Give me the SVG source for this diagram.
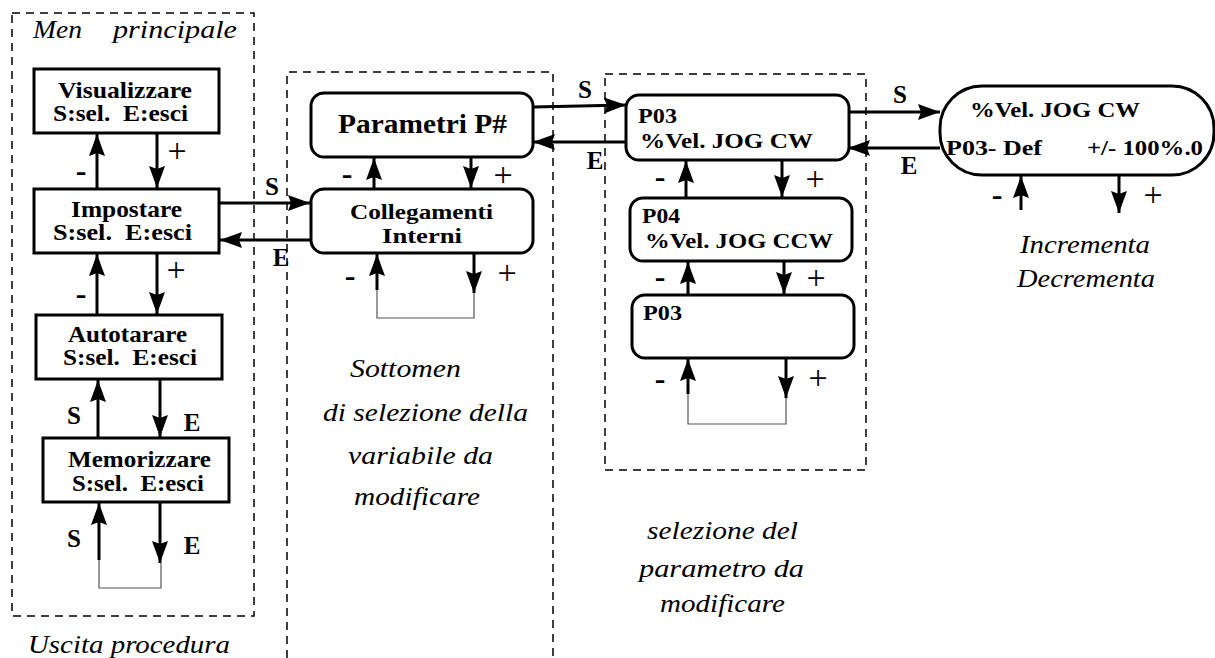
<svg xmlns="http://www.w3.org/2000/svg" width="1215" height="658" viewBox="0 0 1215 658">
<defs>
<marker id="ah" markerUnits="userSpaceOnUse" markerWidth="24" markerHeight="18" refX="22" refY="8" orient="auto">
<path d="M0,0 L22,8 L0,16 L3,8 z" fill="#000"/>
</marker>
<style>
.box{fill:#fff;stroke:#000;stroke-width:3}
.dash{fill:none;stroke:#000;stroke-width:1.5;stroke-dasharray:8 6}
.conn{fill:none;stroke:#000;stroke-width:3;marker-end:url(#ah)}
.loop{fill:none;stroke:#555;stroke-width:1.2}
.t{font-family:"Liberation Serif","Times New Roman",serif;font-weight:bold;font-size:23px;white-space:pre}
.big{font-size:28px}
.sm{font-size:22px}
.xs{font-size:20px}
.note{font-family:"Liberation Serif","Times New Roman",serif;font-style:italic;font-size:26px}
.lbl{font-family:"Liberation Serif","Times New Roman",serif;font-weight:bold;font-size:25px;text-anchor:middle}
.pl{font-family:"Liberation Serif","Times New Roman",serif;font-size:34px;text-anchor:middle}
.mn{font-family:"Liberation Serif","Times New Roman",serif;font-weight:bold;font-size:32px;text-anchor:middle}
</style>
</defs>
<rect width="1215" height="658" fill="#fff"/>

<g id="frames">
<rect class="dash" x="12" y="13" width="242" height="603"/>
<path class="dash" d="M287,658 V72 H553 V658"/>
<rect class="dash" x="605" y="74" width="261" height="396"/>
</g>

<g id="notes">
<text class="note" y="38"><tspan x="33" textLength="49" lengthAdjust="spacingAndGlyphs">Men</tspan><tspan x="113" textLength="124" lengthAdjust="spacingAndGlyphs">principale</tspan></text>
<text class="note" x="28" y="653" textLength="202" lengthAdjust="spacingAndGlyphs">Uscita procedura</text>
<text class="note" x="350" y="377" textLength="111" lengthAdjust="spacingAndGlyphs">Sottomen</text>
<text class="note" x="323" y="421" textLength="205" lengthAdjust="spacingAndGlyphs">di selezione della</text>
<text class="note" x="348" y="464" textLength="145" lengthAdjust="spacingAndGlyphs">variabile da</text>
<text class="note" x="354" y="505" textLength="126" lengthAdjust="spacingAndGlyphs">modificare</text>
<text class="note" x="647" y="539" textLength="151" lengthAdjust="spacingAndGlyphs">selezione del</text>
<text class="note" x="639" y="577" textLength="165" lengthAdjust="spacingAndGlyphs">parametro da</text>
<text class="note" x="660" y="612" textLength="125" lengthAdjust="spacingAndGlyphs">modificare</text>
<text class="note" x="1020" y="253" textLength="130" lengthAdjust="spacingAndGlyphs">Incrementa</text>
<text class="note" x="1017" y="287" textLength="138" lengthAdjust="spacingAndGlyphs">Decrementa</text>
</g>

<g id="visualizzare">
<rect class="box" x="34" y="69" width="185" height="64"/>
<text class="t" x="58" y="98" textLength="134" lengthAdjust="spacingAndGlyphs">Visualizzare</text>
<text class="t" x="53" y="121" textLength="135" lengthAdjust="spacingAndGlyphs" xml:space="preserve">S:sel.  E:esci</text>
</g>
<g id="impostare">
<rect class="box" x="34" y="189" width="185" height="64"/>
<text class="t" x="71" y="217" textLength="111" lengthAdjust="spacingAndGlyphs">Impostare</text>
<text class="t" x="53" y="240" textLength="139" lengthAdjust="spacingAndGlyphs" xml:space="preserve">S:sel.  E:esci</text>
</g>
<g id="autotarare">
<rect class="box" x="36" y="315" width="186" height="64"/>
<text class="t" x="68" y="342" textLength="119" lengthAdjust="spacingAndGlyphs">Autotarare</text>
<text class="t" x="63" y="365" textLength="134" lengthAdjust="spacingAndGlyphs" xml:space="preserve">S:sel.  E:esci</text>
</g>
<g id="memorizzare">
<rect class="box" x="43" y="438" width="186" height="64"/>
<text class="t" x="68" y="467" textLength="143" lengthAdjust="spacingAndGlyphs">Memorizzare</text>
<text class="t" x="72" y="491" textLength="132" lengthAdjust="spacingAndGlyphs" xml:space="preserve">S:sel.  E:esci</text>
</g>

<g id="parametri">
<rect class="box" x="311" y="93" width="222" height="64" rx="13"/>
<text class="t big" x="338" y="133" textLength="169" lengthAdjust="spacingAndGlyphs">Parametri P#</text>
</g>
<g id="collegamenti">
<rect class="box" x="311" y="189" width="222" height="64" rx="13"/>
<text class="t xs" x="350" y="219" textLength="143" lengthAdjust="spacingAndGlyphs">Collegamenti</text>
<text class="t xs" x="382" y="243" textLength="80" lengthAdjust="spacingAndGlyphs">Interni</text>
</g>

<g id="p03">
<rect class="box" x="626" y="95" width="223" height="65" rx="13"/>
<text class="t sm" x="638" y="123" textLength="39" lengthAdjust="spacingAndGlyphs">P03</text>
<text class="t sm" x="640" y="148" textLength="173" lengthAdjust="spacingAndGlyphs">%Vel. JOG CW</text>
</g>
<g id="p04">
<rect class="box" x="630" y="198" width="222" height="63" rx="13"/>
<text class="t sm" x="642" y="223" textLength="38" lengthAdjust="spacingAndGlyphs">P04</text>
<text class="t sm" x="645" y="248" textLength="188" lengthAdjust="spacingAndGlyphs">%Vel. JOG CCW</text>
</g>
<g id="p03b">
<rect class="box" x="632" y="295" width="222" height="63" rx="13"/>
<text class="t sm" x="643" y="320" textLength="39" lengthAdjust="spacingAndGlyphs">P03</text>
</g>

<g id="valore">
<rect class="box" x="940" y="86" width="274" height="89" rx="42"/>
<text class="t sm" x="970" y="117" textLength="170" lengthAdjust="spacingAndGlyphs">%Vel. JOG CW</text>
<text class="t sm" x="946" y="155" textLength="96" lengthAdjust="spacingAndGlyphs">P03- Def</text>
<text class="t sm" x="1087" y="155" textLength="116" lengthAdjust="spacingAndGlyphs">+/- 100%.0</text>
</g>

<g id="connectors">
<line class="conn" x1="97" y1="189" x2="97" y2="134"/>
<line class="conn" x1="157" y1="133" x2="157" y2="188"/>
<line class="conn" x1="97" y1="315" x2="97" y2="254"/>
<line class="conn" x1="157" y1="253" x2="157" y2="314"/>
<line class="conn" x1="98" y1="438" x2="98" y2="380"/>
<line class="conn" x1="160" y1="379" x2="160" y2="437"/>
<line class="conn" x1="99" y1="560" x2="99" y2="503"/>
<line class="conn" x1="160" y1="502" x2="160" y2="563"/>
<path class="loop" d="M99,560 V588 H161 V563"/>

<line class="conn" x1="219" y1="203" x2="310" y2="203"/>
<line class="conn" x1="311" y1="240" x2="220" y2="240"/>

<line class="conn" x1="374" y1="189" x2="374" y2="158"/>
<line class="conn" x1="471" y1="157" x2="471" y2="188"/>
<line class="conn" x1="377" y1="290" x2="377" y2="254"/>
<line class="conn" x1="474" y1="253" x2="474" y2="293"/>
<path class="loop" d="M377,290 V318 H474 V293"/>

<line class="conn" x1="533" y1="107" x2="626" y2="105"/>
<line class="conn" x1="626" y1="142" x2="533" y2="142"/>

<line class="conn" x1="686" y1="198" x2="686" y2="161"/>
<line class="conn" x1="782" y1="160" x2="782" y2="197"/>
<line class="conn" x1="688" y1="295" x2="688" y2="262"/>
<line class="conn" x1="784" y1="261" x2="784" y2="294"/>
<line class="conn" x1="688" y1="394" x2="688" y2="359"/>
<line class="conn" x1="786" y1="358" x2="786" y2="398"/>
<path class="loop" d="M688,394 V424 H786 V398"/>

<line class="conn" x1="849" y1="112" x2="940" y2="112"/>
<line class="conn" x1="940" y1="148" x2="848" y2="148"/>

<line class="conn" x1="1021" y1="210" x2="1021" y2="176"/>
<line class="conn" x1="1119" y1="175" x2="1119" y2="213"/>
</g>

<g id="labels">
<text class="mn" x="81" y="181">-</text>
<text class="pl" x="177" y="162">+</text>
<text class="mn" x="81" y="304">-</text>
<text class="pl" x="176" y="281">+</text>
<text class="lbl" x="74" y="424">S</text>
<text class="lbl" x="192" y="431">E</text>
<text class="lbl" x="74" y="547">S</text>
<text class="lbl" x="192" y="554">E</text>

<text class="lbl" x="272" y="195">S</text>
<text class="lbl" x="281" y="266">E</text>
<text class="mn" x="347" y="184">-</text>
<text class="pl" x="503" y="186">+</text>
<text class="mn" x="350" y="286">-</text>
<text class="pl" x="507" y="284">+</text>

<text class="lbl" x="585" y="98">S</text>
<text class="lbl" x="595" y="169">E</text>
<text class="mn" x="660" y="187">-</text>
<text class="pl" x="815" y="190">+</text>
<text class="mn" x="660" y="287">-</text>
<text class="pl" x="816" y="289">+</text>
<text class="mn" x="660" y="389">-</text>
<text class="pl" x="818" y="389">+</text>

<text class="lbl" x="900" y="103">S</text>
<text class="lbl" x="909" y="174">E</text>
<text class="mn" x="997" y="205">-</text>
<text class="pl" x="1153" y="206">+</text>
</g>
</svg>
